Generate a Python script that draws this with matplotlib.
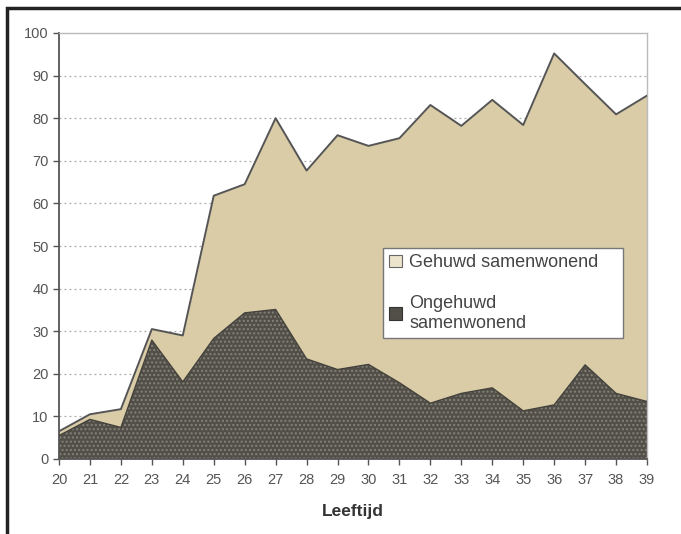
import matplotlib
matplotlib.use('Agg')
import matplotlib.pyplot as plt
from matplotlib.patches import Patch, Rectangle

plt.rcParams['font.family'] = ['Liberation Sans', 'DejaVu Sans']

# leeftijd en percentages
leeftijd = list(range(20, 40))
gehuwd = [6.5, 10.5, 11.7, 30.5, 29.0, 61.8, 64.5, 80.0, 67.7, 76.0,
          73.5, 75.3, 83.1, 78.2, 84.3, 78.4, 95.2, 88.0, 80.9, 85.3]
ongehuwd = [5.5, 9.3, 7.4, 27.9, 18.1, 28.3, 34.3, 35.1, 23.5, 21.0,
            22.2, 17.9, 13.1, 15.4, 16.7, 11.3, 12.7, 22.1, 15.4, 13.5]
yticks = list(range(0, 101, 10))

tan = '#d9cca7'
dark = '#514f48'
dots = '#858278'
lijn = '#555555'

fig = plt.figure(figsize=(6.81, 5.34), dpi=100)
ax = fig.add_axes([59 / 681, 1 - 459 / 534, 588 / 681, 426 / 534])

# kader rond de figuur
fig.patches.append(Rectangle((7 / 681, -0.2), 1.5, 1 - 8 / 534 + 0.2,
                             transform=fig.transFigure, fill=False,
                             edgecolor='#222222', linewidth=2.5))

for y in yticks[1:-1]:
    ax.axhline(y, color='#aaaaaa', linestyle=(0, (1.5, 2.5)), linewidth=0.9, zorder=0)

ax.fill_between(leeftijd, gehuwd, color=tan, linewidth=0, zorder=1)
ax.plot(leeftijd, gehuwd, color=lijn, linewidth=1.4, zorder=3)
ax.fill_between(leeftijd, ongehuwd, facecolor=dark, edgecolor=dots,
                hatch='....', linewidth=0, zorder=2)
ax.plot(leeftijd, ongehuwd, color='#44423c', linewidth=1.0, zorder=3)

ax.set_xlim(20, 39)
ax.set_ylim(0, 100)
ax.set_xticks(leeftijd)
ax.set_yticks(yticks)
ax.tick_params(axis='both', labelsize=10.5, colors='#555555', direction='out',
               length=4, width=1)
ax.tick_params(axis='x', pad=6)
for s in ['left', 'bottom']:
    ax.spines[s].set_color('#555555')
    ax.spines[s].set_linewidth(1.3)
for s in ['top', 'right']:
    ax.spines[s].set_color('#bbbbbb')
    ax.spines[s].set_linewidth(1.0)

ax.set_xlabel('Leeftijd', fontsize=12.5, fontweight='bold', color='#333333',
              labelpad=12)

handles = [Patch(facecolor='#ece4cc', edgecolor='#666666', linewidth=0.8),
           Patch(facecolor=dark, edgecolor='#333333', linewidth=0.8)]
leg = ax.legend(handles, ['Gehuwd samenwonend', 'Ongehuwd\nsamenwonend'],
                loc='upper left', bbox_to_anchor=(0.551, 0.298, 0.408, 0.197),
                mode='expand', borderaxespad=0, frameon=True, fancybox=False,
                framealpha=1, fontsize=13, handlelength=0.7, handleheight=0.7,
                handletextpad=0.4, labelspacing=1.3, borderpad=0.35)
leg.get_frame().set_edgecolor('#777777')
leg.get_frame().set_facecolor('white')
leg.get_frame().set_linewidth(1.0)
for t in leg.get_texts():
    t.set_color('#444444')

fig.savefig('out.png', dpi=100)
